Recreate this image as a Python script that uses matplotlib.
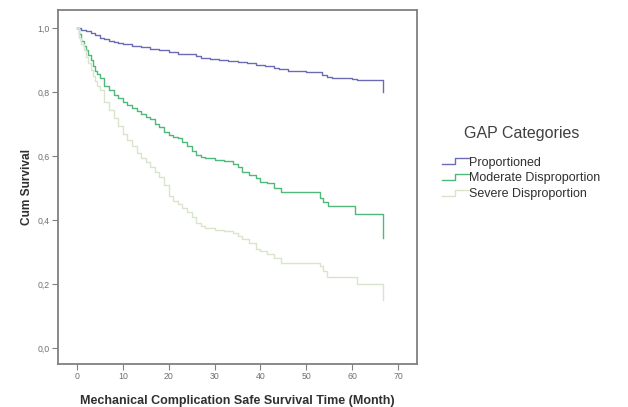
import numpy as np
import matplotlib
matplotlib.use("Agg")
import matplotlib.pyplot as plt
from matplotlib.lines import Line2D
from matplotlib.legend_handler import HandlerBase
from matplotlib.ticker import FuncFormatter

plt.rcParams['font.family'] = ['Liberation Sans', 'DejaVu Sans']

# Kaplan-Meier estimates (time in months, cumulative survival)
prop_time = [0, 1, 2, 3, 4, 5, 6, 7, 8, 9, 10, 12, 14, 16, 18, 20, 22, 24, 26, 27,
             29, 31, 33, 35, 37, 39, 41, 43, 44, 46, 48, 50, 52, 53.5, 54.5, 55.5,
             60, 61, 66.8, 66.8]
prop_surv = [1.0, 0.995, 0.99, 0.985, 0.978, 0.970, 0.965, 0.96, 0.957, 0.954,
             0.951, 0.945, 0.94, 0.935, 0.93, 0.925, 0.92, 0.917, 0.912, 0.905,
             0.902, 0.9, 0.897, 0.894, 0.89, 0.885, 0.881, 0.875, 0.871, 0.866,
             0.864, 0.863, 0.862, 0.853, 0.847, 0.845, 0.84, 0.8375, 0.8375, 0.80]

mod_time = [0, 0.5, 1, 1.5, 2, 2.5, 3, 3.5, 4, 4.5, 5, 6, 7, 8, 9, 10, 11, 12, 13,
            14, 15, 16, 17, 18, 19, 20, 21, 22, 23, 24, 25, 26, 27, 28, 30, 32,
            34, 35, 36, 37.5, 39, 40, 41.5, 43, 44.5, 53, 53.7, 54.7, 60.5, 66.8,
            66.8]
mod_surv = [1.0, 0.98, 0.96, 0.945, 0.93, 0.915, 0.9, 0.88, 0.865, 0.855, 0.845,
            0.82, 0.805, 0.79, 0.78, 0.77, 0.76, 0.75, 0.74, 0.73, 0.722, 0.715,
            0.7, 0.69, 0.675, 0.665, 0.66, 0.655, 0.645, 0.63, 0.615, 0.603,
            0.598, 0.593, 0.588, 0.583, 0.575, 0.565, 0.55, 0.54, 0.53, 0.52,
            0.515, 0.5, 0.488, 0.47, 0.455, 0.445, 0.418, 0.418, 0.345]

sev_time = [0, 0.5, 1, 1.5, 2, 2.5, 3, 3.5, 4, 4.5, 5, 6, 7, 8, 9, 10, 11, 12, 13,
            14, 15, 16, 17, 18, 19, 20, 21, 22, 23, 24, 25, 26, 27, 28, 30, 32,
            34, 35, 36, 37.5, 39, 40, 41.5, 43, 44.5, 53, 53.7, 54.5, 61, 66.8,
            66.8]
sev_surv = [1.0, 0.97, 0.95, 0.93, 0.91, 0.89, 0.87, 0.85, 0.835, 0.82, 0.805,
            0.77, 0.745, 0.72, 0.695, 0.67, 0.65, 0.63, 0.61, 0.595, 0.58, 0.565,
            0.55, 0.535, 0.51, 0.475, 0.46, 0.45, 0.438, 0.425, 0.41, 0.39, 0.38,
            0.375, 0.37, 0.365, 0.358, 0.35, 0.34, 0.328, 0.31, 0.303, 0.295,
            0.28, 0.266, 0.255, 0.24, 0.222, 0.2, 0.2, 0.15]

categories = ["Proportioned", "Moderate Disproportion", "Severe Disproportion"]
colors = ["#6b6bb5", "#4fb87a", "#d8e4cc"]
x_ticks = [0, 10, 20, 30, 40, 50, 60, 70]
y_ticks = [0.0, 0.2, 0.4, 0.6, 0.8, 1.0]

fig = plt.figure(figsize=(6.28, 4.07), dpi=100)
ax = fig.add_axes([58 / 628, 1 - 364 / 407, (417 - 58) / 628, (364 - 10) / 407])

series = [(prop_time, prop_surv), (mod_time, mod_surv), (sev_time, sev_surv)]
handles = []
for (t, s), name, c in zip(series, categories, colors):
    ln, = ax.plot(t, s, drawstyle='steps-post', color=c, lw=1.0, label=name)
    handles.append(ln)

ax.set_xlim(-4.1, 74.1)
ax.set_ylim(-0.05, 1.056)
ax.set_xticks(x_ticks)
ax.set_yticks(y_ticks)
ax.yaxis.set_major_formatter(FuncFormatter(lambda v, p: f"{v:.1f}".replace('.', ',')))
ax.tick_params(axis='both', direction='out', length=4, width=0.8, color='#808080',
               labelsize=6.3, labelcolor='#707070', pad=2)

for sp in ax.spines.values():
    sp.set_color('#808080')
    sp.set_linewidth(1.3)

ax.set_xlabel("Mechanical Complication Safe Survival Time (Month)",
              fontsize=9, fontweight='bold', color='#303030', labelpad=10)
ax.set_ylabel("Cum Survival", fontsize=8.6, fontweight='bold', color='#303030',
              labelpad=3)


class StepHandler(HandlerBase):
    def create_artists(self, legend, orig_handle, xdescent, ydescent, width,
                       height, fontsize, trans):
        xs = np.array([0, 0.5, 0.5, 1.0]) * width - xdescent
        ys = np.array([0.15, 0.15, 0.85, 0.85]) * height - ydescent
        line = Line2D(xs, ys, color=orig_handle.get_color(), lw=1.0,
                      transform=trans)
        return [line]


leg = fig.legend(handles=handles, labels=categories, title="GAP Categories",
                 loc='upper left', bbox_to_anchor=(436 / 628, 1 - 120 / 407),
                 frameon=False, fontsize=9, title_fontsize=11.5,
                 handler_map={Line2D: StepHandler()}, handlelength=2.1,
                 handletextpad=0.05, labelspacing=0.3, borderpad=0)
leg.get_title().set_color('#404040')
for txt in leg.get_texts():
    txt.set_color('#303030')
leg._legend_box.sep = 11

fig.savefig("out.png", dpi=100)
